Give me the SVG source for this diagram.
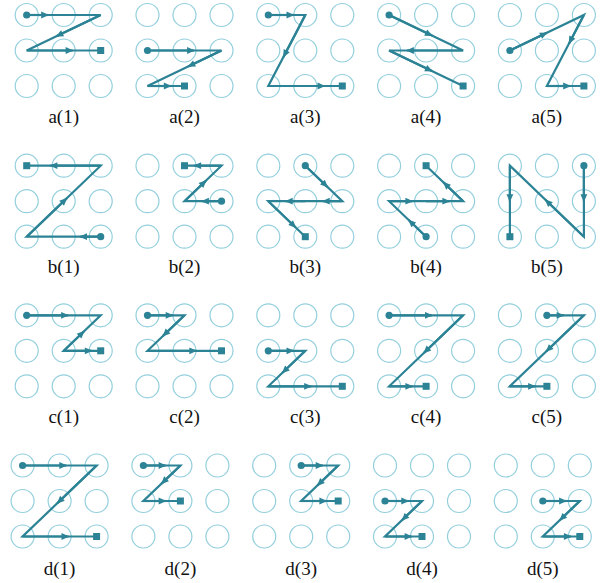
<svg xmlns="http://www.w3.org/2000/svg" xmlns:xlink="http://www.w3.org/1999/xlink" width="607" height="583" viewBox="0 0 607 583">
<style>
.cell{fill:none;stroke:#93cfdd;stroke-width:1.2}
.ln{fill:none;stroke:#2b8395;stroke-width:2.2;stroke-linejoin:miter}
.ar{fill:none;stroke:#2b8395;stroke-width:2.2;marker-end:url(#ah)}
.st{fill:#2b8395}
text{font-family:'Liberation Serif','Times New Roman',serif;font-size:19px;fill:#111;text-anchor:middle}
</style>
<defs>
<marker id="ah" markerUnits="userSpaceOnUse" markerWidth="10" markerHeight="10" viewBox="-1 -5 10 10" refX="7" refY="0" orient="auto">
<path d="M0,-3.4 L7.8,0 L0,3.4 z" fill="#2b8395"/>
</marker>
<g id="grid">
<circle class="cell" cx="0" cy="0" r="11.5"/><circle class="cell" cx="37" cy="0" r="11.5"/><circle class="cell" cx="74" cy="0" r="11.5"/>
<circle class="cell" cx="0" cy="35.5" r="11.5"/><circle class="cell" cx="37" cy="35.5" r="11.5"/><circle class="cell" cx="74" cy="35.5" r="11.5"/>
<circle class="cell" cx="0" cy="71" r="11.5"/><circle class="cell" cx="37" cy="71" r="11.5"/><circle class="cell" cx="74" cy="71" r="11.5"/>
</g>
</defs>
<rect width="607" height="583" fill="#fff"/>

<g id="nodes" font-family="Liberation Serif, Times New Roman, serif" font-size="19" text-anchor="middle">
<g id="a1" transform="translate(26.7,15)"><use xlink:href="#grid"/><text font-family="Liberation Serif, serif" x="37" y="107.7">a(1)</text></g>
<g id="a2" transform="translate(147.5,15)"><use xlink:href="#grid"/><text font-family="Liberation Serif, serif" x="37" y="107.7">a(2)</text></g>
<g id="a3" transform="translate(268.3,15)"><use xlink:href="#grid"/><text font-family="Liberation Serif, serif" x="37" y="107.7">a(3)</text></g>
<g id="a4" transform="translate(389.1,15)"><use xlink:href="#grid"/><text font-family="Liberation Serif, serif" x="37" y="107.7">a(4)</text></g>
<g id="a5" transform="translate(509.9,15)"><use xlink:href="#grid"/><text font-family="Liberation Serif, serif" x="37" y="107.7">a(5)</text></g>

<g id="b1" transform="translate(26.7,165.7)"><use xlink:href="#grid"/><text font-family="Liberation Serif, serif" x="37" y="107.7">b(1)</text></g>
<g id="b2" transform="translate(147.5,165.7)"><use xlink:href="#grid"/><text font-family="Liberation Serif, serif" x="37" y="107.7">b(2)</text></g>
<g id="b3" transform="translate(268.3,165.7)"><use xlink:href="#grid"/><text font-family="Liberation Serif, serif" x="37" y="107.7">b(3)</text></g>
<g id="b4" transform="translate(389.1,165.7)"><use xlink:href="#grid"/><text font-family="Liberation Serif, serif" x="37" y="107.7">b(4)</text></g>
<g id="b5" transform="translate(509.9,165.7)"><use xlink:href="#grid"/><text font-family="Liberation Serif, serif" x="37" y="107.7">b(5)</text></g>

<g id="c1" transform="translate(26.7,315.3)"><use xlink:href="#grid"/><text font-family="Liberation Serif, serif" x="37" y="107.7">c(1)</text></g>
<g id="c2" transform="translate(147.5,315.3)"><use xlink:href="#grid"/><text font-family="Liberation Serif, serif" x="37" y="107.7">c(2)</text></g>
<g id="c3" transform="translate(268.3,315.3)"><use xlink:href="#grid"/><text font-family="Liberation Serif, serif" x="37" y="107.7">c(3)</text></g>
<g id="c4" transform="translate(389.1,315.3)"><use xlink:href="#grid"/><text font-family="Liberation Serif, serif" x="37" y="107.7">c(4)</text></g>
<g id="c5" transform="translate(509.9,315.3)"><use xlink:href="#grid"/><text font-family="Liberation Serif, serif" x="37" y="107.7">c(5)</text></g>

<g id="d1" transform="translate(22.6,465.5)"><use xlink:href="#grid"/><text font-family="Liberation Serif, serif" x="37" y="109">d(1)</text></g>
<g id="d2" transform="translate(143.4,465.5)"><use xlink:href="#grid"/><text font-family="Liberation Serif, serif" x="37" y="109">d(2)</text></g>
<g id="d3" transform="translate(264.2,465.5)"><use xlink:href="#grid"/><text font-family="Liberation Serif, serif" x="37" y="109">d(3)</text></g>
<g id="d4" transform="translate(385,465.5)"><use xlink:href="#grid"/><text font-family="Liberation Serif, serif" x="37" y="109">d(4)</text></g>
<g id="d5" transform="translate(505.8,465.5)"><use xlink:href="#grid"/><text font-family="Liberation Serif, serif" x="37" y="109">d(5)</text></g>
</g>

<g id="connectors">
<g transform="translate(26.7,15)">
<path class="ln" d="M0,0 L74,0 L0,35.5 L74,35.5"/>
<path class="ar" d="M0,0 L21.5,0"/><path class="ar" d="M74,0 L29.6,21.3"/><path class="ar" d="M0,35.5 L45.9,35.5"/>
<circle class="st" cx="0" cy="0" r="3.6"/><rect class="st" x="70.5" y="32" width="7" height="7"/>
</g>
<g transform="translate(147.5,15)">
<path class="ln" d="M0,35.5 L74,35.5 L0,71 L37,71"/>
<path class="ar" d="M0,35.5 L46.6,35.5"/><path class="ar" d="M74,35.5 L40.7,51.5"/><path class="ar" d="M0,71 L23.3,71"/>
<circle class="st" cx="0" cy="35.5" r="3.6"/><rect class="st" x="33.5" y="67.5" width="7" height="7"/>
</g>
<g transform="translate(268.3,15)">
<path class="ln" d="M0,0 L37,0 L0,71 L74,71"/>
<path class="ar" d="M0,0 L25.2,0"/><path class="ar" d="M37,0 L15.2,41.9"/><path class="ar" d="M0,71 L56.2,71"/>
<circle class="st" cx="0" cy="0" r="3.6"/><rect class="st" x="70.5" y="67.5" width="7" height="7"/>
</g>
<g transform="translate(389.1,15)">
<path class="ln" d="M0,0 L74,35.5 L0,35.5 L74,71"/>
<path class="ar" d="M0,0 L42.9,20.6"/><path class="ar" d="M74,35.5 L17.8,35.5"/><path class="ar" d="M0,35.5 L42.9,56.1"/>
<circle class="st" cx="0" cy="0" r="3.6"/><rect class="st" x="70.5" y="67.5" width="7" height="7"/>
</g>
<g transform="translate(509.9,15)">
<path class="ln" d="M0,35.5 L74,0 L37,71 L74,71"/>
<path class="ar" d="M0,35.5 L37,17.75"/><path class="ar" d="M74,0 L59.2,28.4"/><path class="ar" d="M37,71 L60.3,71"/>
<circle class="st" cx="0" cy="35.5" r="3.6"/><rect class="st" x="70.5" y="67.5" width="7" height="7"/>
</g>
<g transform="translate(26.7,165.7)">
<path class="ln" d="M74,71 L0,71 L74,0 L0,0"/>
<path class="ar" d="M74,71 L53.3,71"/><path class="ar" d="M0,71 L40,32.7"/><path class="ar" d="M74,0 L23.7,0"/>
<circle class="st" cx="74" cy="71" r="3.6"/><rect class="st" x="-3.5" y="-3.5" width="7" height="7"/>
</g>
<g transform="translate(147.5,165.7)">
<path class="ln" d="M74,35.5 L37,35.5 L74,0 L37,0"/>
<path class="ar" d="M74,35.5 L54.4,35.5"/><path class="ar" d="M37,35.5 L58.5,14.9"/><path class="ar" d="M74,0 L46.6,0"/>
<circle class="st" cx="74" cy="35.5" r="3.6"/><rect class="st" x="33.5" y="-3.5" width="7" height="7"/>
</g>
<g transform="translate(268.3,165.7)">
<path class="ln" d="M37,0 L74,35.5 L0,35.5 L37,71"/>
<path class="ar" d="M37,0 L59.2,21.3"/><path class="ar" d="M74,35.5 L54.4,35.5"/><path class="ar" d="M37,35.5 L17.4,35.5"/><path class="ar" d="M0,35.5 L27.4,61.8"/>
<circle class="st" cx="37" cy="0" r="3.6"/><rect class="st" x="33.5" y="67.5" width="7" height="7"/>
</g>
<g transform="translate(389.1,165.7)">
<path class="ln" d="M37,71 L0,35.5 L74,35.5 L37,0"/>
<path class="ar" d="M37,71 L19.6,54.3"/><path class="ar" d="M0,35.5 L23.3,35.5"/><path class="ar" d="M37,35.5 L60.3,35.5"/><path class="ar" d="M74,35.5 L54.4,16.7"/>
<circle class="st" cx="37" cy="71" r="3.6"/><rect class="st" x="33.5" y="-3.5" width="7" height="7"/>
</g>
<g transform="translate(509.9,165.7)">
<path class="ln" d="M74,0 L74,71 L0,0 L0,71"/>
<path class="ar" d="M74,0 L74,35.5"/><path class="ar" d="M74,71 L35.5,34.1"/><path class="ar" d="M0,0 L0,35.5"/>
<circle class="st" cx="74" cy="0" r="3.6"/><rect class="st" x="-3.5" y="67.5" width="7" height="7"/>
</g>
<g transform="translate(26.7,315.3)">
<path class="ln" d="M0,0 L74,0 L37,35.5 L74,35.5"/>
<path class="ar" d="M0,0 L41.4,0"/><path class="ar" d="M37,35.5 L57.4,16"/><path class="ar" d="M37,35.5 L65.1,35.5"/>
<circle class="st" cx="0" cy="0" r="3.6"/><rect class="st" x="70.5" y="32" width="7" height="7"/>
</g>
<g transform="translate(147.5,315.3)">
<path class="ln" d="M0,0 L37,0 L0,35.5 L74,35.5"/>
<path class="ar" d="M0,0 L25.2,0"/><path class="ar" d="M37,0 L15.5,20.6"/><path class="ar" d="M0,35.5 L48.8,35.5"/>
<circle class="st" cx="0" cy="0" r="3.6"/><rect class="st" x="70.5" y="32" width="7" height="7"/>
</g>
<g transform="translate(268.3,315.3)">
<path class="ln" d="M0,35.5 L37,35.5 L0,71 L74,71"/>
<path class="ar" d="M0,35.5 L25.2,35.5"/><path class="ar" d="M37,35.5 L14.1,57.5"/><path class="ar" d="M0,71 L42.9,71"/>
<circle class="st" cx="0" cy="35.5" r="3.6"/><rect class="st" x="70.5" y="67.5" width="7" height="7"/>
</g>
<g transform="translate(389.1,315.3)">
<path class="ln" d="M0,0 L74,0 L0,71 L37,71"/>
<path class="ar" d="M0,0 L42.9,0"/><path class="ar" d="M74,0 L34.8,37.6"/><path class="ar" d="M0,71 L23.3,71"/>
<circle class="st" cx="0" cy="0" r="3.6"/><rect class="st" x="33.5" y="67.5" width="7" height="7"/>
</g>
<g transform="translate(509.9,315.3)">
<path class="ln" d="M37,0 L74,0 L0,71 L37,71"/>
<path class="ar" d="M37,0 L53.7,0"/><path class="ar" d="M74,0 L36.3,36.2"/><path class="ar" d="M0,71 L25.2,71"/>
<circle class="st" cx="37" cy="0" r="3.6"/><rect class="st" x="33.5" y="67.5" width="7" height="7"/>
</g>
<g transform="translate(22.6,465.5)">
<path class="ln" d="M0,0 L74,0 L0,71 L74,71"/>
<path class="ar" d="M0,0 L43.7,0"/><path class="ar" d="M74,0 L34.8,37.6"/><path class="ar" d="M0,71 L45.9,71"/>
<circle class="st" cx="0" cy="0" r="3.6"/><rect class="st" x="70.5" y="67.5" width="7" height="7"/>
</g>
<g transform="translate(143.4,465.5)">
<path class="ln" d="M0,0 L37,0 L0,35.5 L37,35.5"/>
<path class="ar" d="M0,0 L22.2,0"/><path class="ar" d="M37,0 L18.1,18.1"/><path class="ar" d="M0,35.5 L22.2,35.5"/>
<circle class="st" cx="0" cy="0" r="3.6"/><rect class="st" x="33.5" y="32" width="7" height="7"/>
</g>
<g transform="translate(264.2,465.5)">
<path class="ln" d="M37,0 L74,0 L37,35.5 L74,35.5"/>
<path class="ar" d="M37,0 L58.5,0"/><path class="ar" d="M74,0 L53.3,19.9"/><path class="ar" d="M37,35.5 L62.2,35.5"/>
<circle class="st" cx="37" cy="0" r="3.6"/><rect class="st" x="70.5" y="32" width="7" height="7"/>
</g>
<g transform="translate(385,465.5)">
<path class="ln" d="M0,35.5 L37,35.5 L0,71 L37,71"/>
<path class="ar" d="M0,35.5 L23.3,35.5"/><path class="ar" d="M37,35.5 L17,54.7"/><path class="ar" d="M0,71 L26.6,71"/>
<circle class="st" cx="0" cy="35.5" r="3.6"/><rect class="st" x="33.5" y="67.5" width="7" height="7"/>
</g>
<g transform="translate(505.8,465.5)">
<path class="ln" d="M37,35.5 L74,35.5 L37,71 L74,71"/>
<path class="ar" d="M37,35.5 L60.3,35.5"/><path class="ar" d="M74,35.5 L54,54.7"/><path class="ar" d="M37,71 L65.1,71"/>
<circle class="st" cx="37" cy="35.5" r="3.6"/><rect class="st" x="70.5" y="67.5" width="7" height="7"/>
</g>
</g>
</svg>
